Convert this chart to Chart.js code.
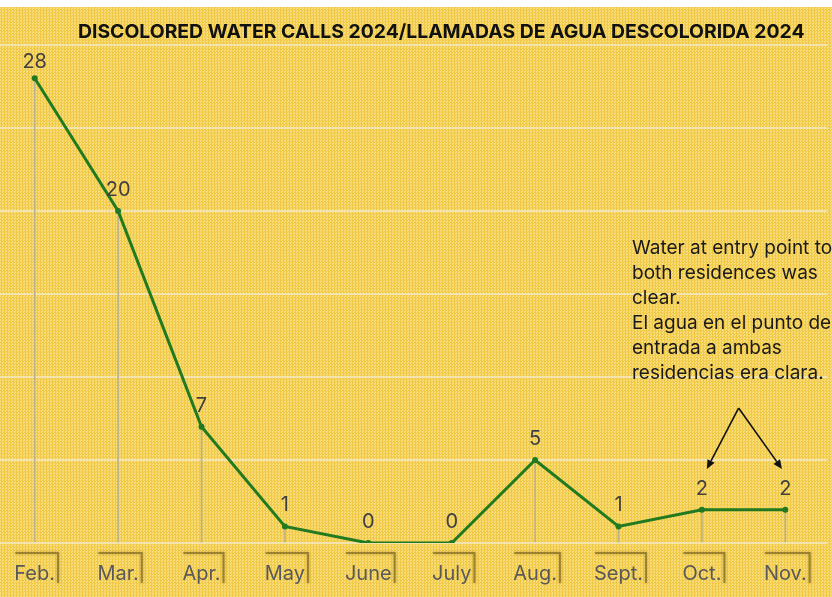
<!DOCTYPE html>
<html><head><meta charset="utf-8">
<script src="https://cdn.jsdelivr.net/npm/chart.js@4.4.1/dist/chart.umd.min.js"></script>
<style>
html,body{margin:0;padding:0;width:832px;height:597px;overflow:hidden;background:#fff;}
#bg{position:absolute;left:0;top:7px;width:832px;height:590px;background-color:#F4D25C;
  background-image:repeating-conic-gradient(#F1C843 0 25%, #F8DD7C 0 50%);background-size:3px 3px;}
#wrap{position:absolute;left:-11px;top:0;width:842px;height:604px;}
#title{position:absolute;top:21px;left:78px;font-family:Inter,sans-serif;font-weight:bold;font-size:17px;line-height:20px;white-space:nowrap;color:#111;}
#note{position:absolute;left:632px;top:235px;font-family:Inter,sans-serif;font-size:19px;line-height:25px;color:#1a1a1a;white-space:nowrap;}
</style></head>
<body>
<div id="bg"></div>
<div id="wrap"><canvas id="c"></canvas></div>
<div id="title">DISCOLORED WATER CALLS 2024/LLAMADAS DE AGUA DESCOLORIDA 2024</div>
<div id="note">Water at entry point to<br>both residences was<br>clear.<br>El agua en el punto de<br>entrada a ambas<br>residencias era clara.</div>
<script>
const months = ['Feb.','Mar.','Apr.','May','June','July','Aug.','Sept.','Oct.','Nov.'];
const calls = [28,20,7,1,0,0,5,1,2,2];
const yMin = 0, yMax = 30, yStep = 5;

// fit title width to reference
const t = document.getElementById('title');
t.style.fontSize = (17 * 727 / t.offsetWidth) + 'px';

const FONT = 'Inter, sans-serif';
const TICK_SIZE = 20;

const labelsPlugin = {
  id: 'valueLabels',
  afterDatasetsDraw(chart) {
    const ctx = chart.ctx;
    const meta = chart.getDatasetMeta(1);
    ctx.save();
    ctx.font = '20px ' + FONT;
    ctx.fillStyle = '#404040';
    ctx.textAlign = 'center';
    ctx.textBaseline = 'middle';
    meta.data.forEach((pt, i) => {
      const y = Math.max(pt.y - 21, 62);
      ctx.fillText(String(calls[i]), pt.x, y);
    });
    ctx.restore();
  }
};

const bracketPlugin = {
  id: 'tickBrackets',
  afterDraw(chart) {
    const ctx = chart.ctx;
    const xs = chart.scales.x;
    const base = chart.chartArea.bottom;
    ctx.save();
    ctx.font = TICK_SIZE + 'px ' + FONT;
    ctx.strokeStyle = 'rgba(110,90,25,0.55)';
    ctx.lineWidth = 2;
    ctx.shadowColor = 'rgba(90,70,10,0.7)';
    ctx.shadowBlur = 3;
    months.forEach((m, i) => {
      const x = xs.getPixelForTick(i);
      const w = ctx.measureText(m).width;
      const l = x - w / 2 + 1, r = x + w / 2 + 3;
      ctx.beginPath();
      ctx.moveTo(l, base + 10);
      ctx.lineTo(r, base + 10);
      ctx.lineTo(r, base + 40);
      ctx.stroke();
    });
    ctx.restore();
  }
};

const arrowPlugin = {
  id: 'arrows',
  afterDraw(chart) {
    const ctx = chart.ctx;
    const xs = chart.scales.x, ys = chart.scales.y;
    const apex = [xs.getPixelForValue(8.44), ys.getPixelForValue(8.13)];
    const tips = [[xs.getPixelForValue(8.06), ys.getPixelForValue(4.46)],
                  [xs.getPixelForValue(8.96), ys.getPixelForValue(4.46)]];
    ctx.save();
    ctx.strokeStyle = '#111';
    ctx.fillStyle = '#111';
    ctx.lineWidth = 1.6;
    tips.forEach(tp => {
      const ang = Math.atan2(tp[1] - apex[1], tp[0] - apex[0]);
      const hl = 9, hw = 4;
      const bx = tp[0] - hl * Math.cos(ang), by = tp[1] - hl * Math.sin(ang);
      ctx.beginPath();
      ctx.moveTo(apex[0], apex[1]);
      ctx.lineTo(bx, by);
      ctx.stroke();
      ctx.beginPath();
      ctx.moveTo(tp[0], tp[1]);
      ctx.lineTo(bx + hw * Math.sin(ang), by - hw * Math.cos(ang));
      ctx.lineTo(bx - hw * Math.sin(ang), by + hw * Math.cos(ang));
      ctx.closePath();
      ctx.fill();
    });
    ctx.restore();
  }
};

new Chart(document.getElementById('c'), {
  type: 'bar',
  data: {
    labels: months,
    datasets: [
      { type: 'bar', data: calls, backgroundColor: '#bdb28a', barThickness: 1, order: 2 },
      { type: 'line', data: calls, borderColor: '#217a1f', backgroundColor: '#217a1f',
        borderWidth: 3, pointRadius: 3, pointBackgroundColor: '#217a1f', pointBorderWidth: 0,
        tension: 0, order: 1 }
    ]
  },
  options: {
    responsive: true,
    maintainAspectRatio: false,
    animation: false,
    layout: { padding: { top: 45, bottom: 0, left: 0, right: 0 } },
    plugins: { legend: { display: false }, tooltip: { enabled: false }, title: { display: false } },
    scales: {
      x: {
        offset: true,
        grid: { display: false, drawTicks: false },
        border: { display: false },
        ticks: { color: '#595959', font: { family: FONT, size: TICK_SIZE }, padding: 18.5, maxRotation: 0, autoSkip: false }
      },
      y: {
        min: yMin, max: yMax,
        ticks: { display: false, stepSize: yStep },
        grid: { color: '#F2E4AC', lineWidth: 2, drawTicks: false },
        border: { display: false }
      }
    }
  },
  plugins: [labelsPlugin, bracketPlugin, arrowPlugin]
});
</script>
</body></html>
